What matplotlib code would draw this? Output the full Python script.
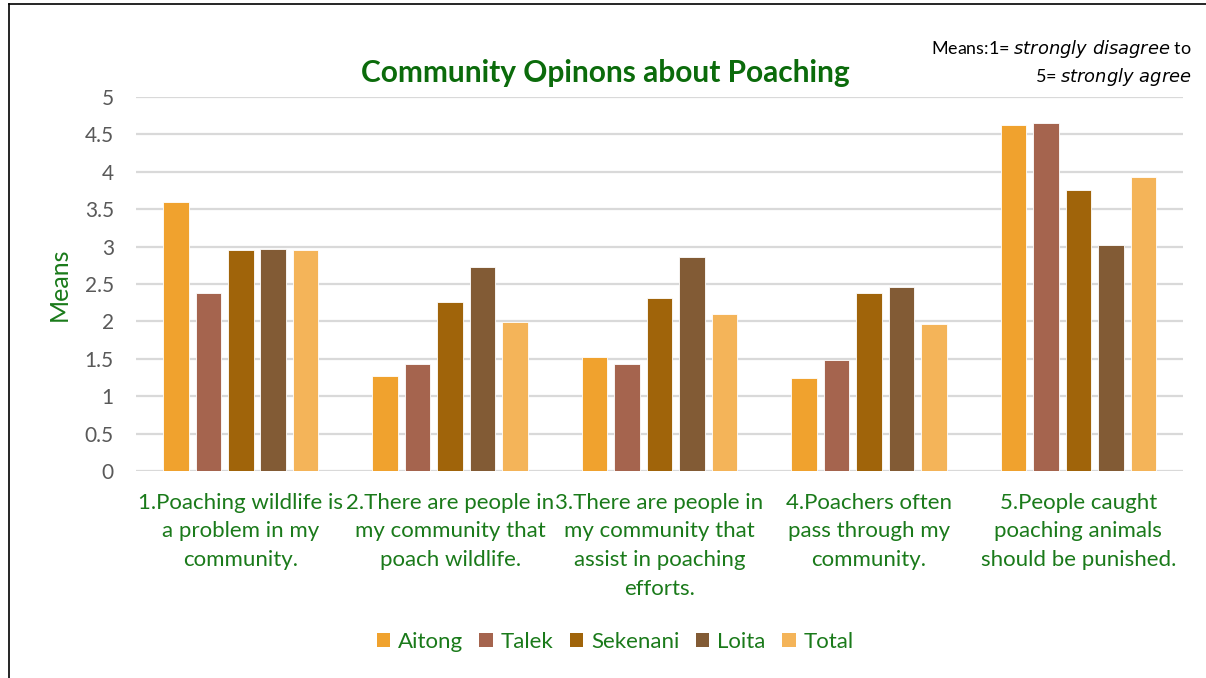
import matplotlib
matplotlib.use("Agg")
import matplotlib.pyplot as plt
import numpy as np
from matplotlib.patches import Patch
from matplotlib.lines import Line2D

categories = [
    "1.Poaching wildlife is\na problem in my\ncommunity.",
    "2.There are people in\nmy community that\npoach wildlife.",
    "3.There are people in\nmy community that\nassist in poaching\nefforts.",
    "4.Poachers often\npass through my\ncommunity.",
    "5.People caught\npoaching animals\nshould be punished.",
]
series_names = ["Aitong", "Talek", "Sekenani", "Loita", "Total"]
aitong = [3.60, 1.27, 1.52, 1.24, 4.63]
talek = [2.38, 1.43, 1.43, 1.48, 4.65]
sekenani = [2.95, 2.26, 2.31, 2.38, 3.76]
loita = [2.97, 2.73, 2.86, 2.46, 3.02]
total = [2.96, 1.99, 2.10, 1.97, 3.93]
yticks = [0, 0.5, 1, 1.5, 2, 2.5, 3, 3.5, 4, 4.5, 5]
ytick_labels = ["0", "0.5", "1", "1.5", "2", "2.5", "3", "3.5", "4", "4.5", "5"]

colors = ["#F0A22E", "#A5644E", "#A0640A", "#825B35", "#F4B459"]
green = "#1A7A1A"
title_green = "#0B6B0B"

plt.rcParams['font.family'] = ['Lato', 'DejaVu Sans']

fig = plt.figure(figsize=(12.06, 6.78), dpi=100)
ax = fig.add_axes([0.1128, 0.3053, 0.8682, 0.5517])

data = [aitong, talek, sekenani, loita, total]
x = np.arange(len(categories))
pitch = 0.155
width = 0.122
for i, (vals, c) in enumerate(zip(data, colors)):
    ax.bar(x + (i - 2) * pitch, vals, width=width, color=c, edgecolor="white",
           linewidth=0.6, zorder=3, label=series_names[i])

ax.set_xlim(-0.5, len(categories) - 0.5)
ax.set_ylim(0, 5)
ax.set_yticks(yticks)
ax.set_yticklabels(ytick_labels, fontsize=15, color="#595959")
ax.set_xticks(x)
ax.set_xticklabels(categories, fontsize=16, color=green, linespacing=1.55, va="top")
ax.tick_params(axis="both", length=0)
ax.tick_params(axis="x", pad=15.5)
ax.tick_params(axis="y", pad=16)
ax.yaxis.grid(True, color="#D9D9D9", linewidth=1.6, zorder=0)
for s in ax.spines.values():
    s.set_visible(False)
ax.set_ylabel("Means", fontsize=18, color=green, labelpad=10)

fig.text(0.502, 0.893, "Community Opinons about Poaching", ha="center", va="center",
         fontsize=21.5, fontweight="bold", color=title_green)
fig.text(0.988, 0.927, "Means:1= $\\it{strongly\\ disagree}$ to", ha="right", va="center",
         fontsize=12.9, color="black")
fig.text(0.988, 0.887, "5= $\\it{strongly\\ agree}$", ha="right", va="center",
         fontsize=12.9, color="black")

handles = [Patch(facecolor=c, edgecolor="none") for c in colors]
leg = fig.legend(handles, series_names, loc="center", bbox_to_anchor=(0.510, 0.053),
                 ncol=5, frameon=False, fontsize=16, handlelength=0.6, handleheight=0.6,
                 handletextpad=0.35, columnspacing=0.75)
for t in leg.get_texts():
    t.set_color(green)

# border lines (top and left)
fig.add_artist(Line2D([0.0075, 1.0], [0.994, 0.994], color="black", linewidth=1.2,
                      transform=fig.transFigure))
fig.add_artist(Line2D([0.0075, 0.0075], [0.0, 0.994], color="black", linewidth=1.2,
                      transform=fig.transFigure))

fig.savefig("out.png", dpi=100)
